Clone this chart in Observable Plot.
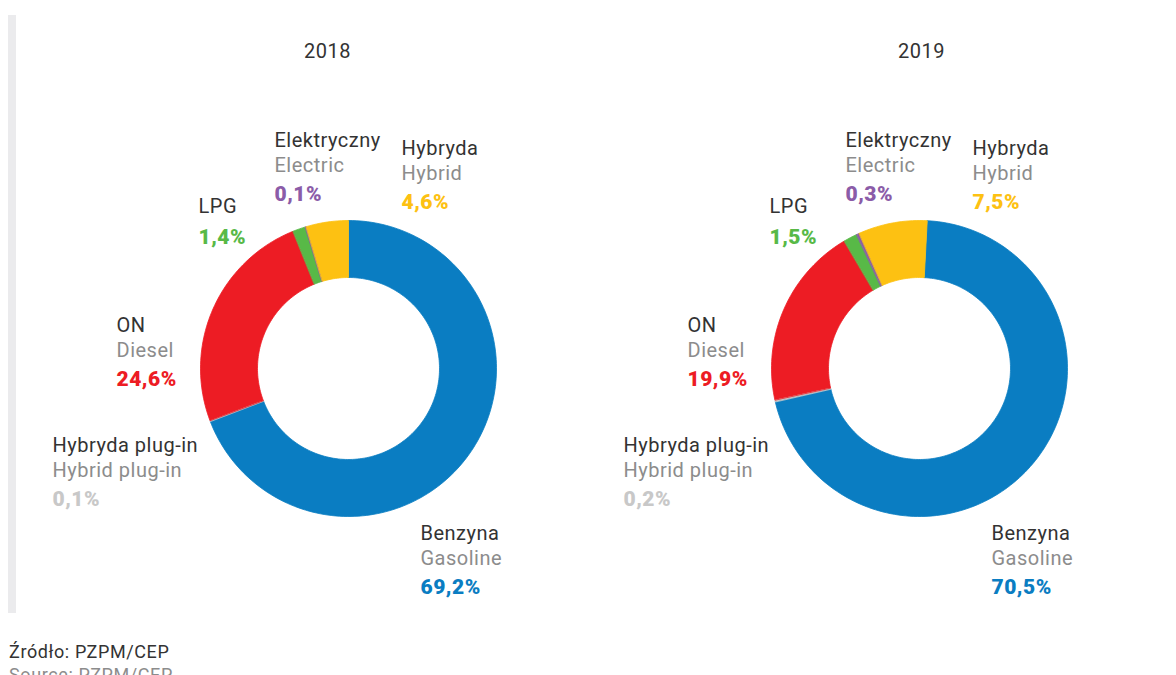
<!DOCTYPE html>
<html><head><meta charset="utf-8">
<script src="https://cdn.jsdelivr.net/npm/d3@7"></script>
<script src="https://cdn.jsdelivr.net/npm/@observablehq/plot@0.6"></script>
<style>
html,body{margin:0;padding:0;background:#fff;width:1176px;height:675px;overflow:hidden;font-family:Roboto,sans-serif;}
#bar{position:absolute;left:8px;top:15px;width:8px;height:598px;background:#ebebed;}
#chart{position:absolute;left:0;top:0;}
#chart text{letter-spacing:0.5px;}
#foot{position:absolute;left:9px;top:640px;font-size:18px;line-height:23px;color:#333;letter-spacing:0.6px;}
</style></head><body>
<div id="bar"></div><div id="chart"></div>
<div id="foot"><div>Źródło: PZPM/CEP</div><div style="color:#8c8c8c">Source: PZPM/CEP</div></div>
<script>
// ---- data ----
const years = [2018, 2019];
const categories = ["Benzyna", "Hybryda plug-in", "ON", "LPG", "Elektryczny", "Hybryda"];
const englishNames = ["Gasoline", "Hybrid plug-in", "Diesel", "", "Electric", "Hybrid"];
const values2018 = [69.2, 0.1, 24.6, 1.4, 0.1, 4.6];
const values2019 = [70.5, 0.2, 19.9, 1.5, 0.3, 7.5];
const sliceColors = ["#0a7dc2", "#c8c8c8", "#ed1c24", "#58b947", "#8b5ca8", "#fdc112"];

// ---- layout ----
const PX = 148;            // pixels per unit (outer radius)
const INNER = 91 / 148;    // inner radius ratio
const startDeg = {2018: 0, 2019: 3};
const labelPos = {         // px offsets from donut centre: [left edge, first-line middle]
  "Benzyna": [72, 165],
  "Hybryda plug-in": [-296, 77],
  "ON": [-232, -43],
  "LPG": [-150, -162],
  "Elektryczny": [-74, -228],
  "Hybryda": [53, -220]
};
const titleDx = {2018: -21, 2019: 2};
const valuesByYear = {2018: values2018, 2019: values2019};
const fmt = v => d3.format(".1f")(v).replace(".", ",") + "%";

const slicePts = [];
for (const year of years) {
  const vals = valuesByYear[year];
  const sum = d3.sum(vals);
  let a = startDeg[year];
  categories.forEach((cat, i) => {
    const span = vals[i] / sum * 360;
    const a0 = a, a1 = a + span; a = a1;
    const n = Math.max(2, Math.ceil(span / 1.5));
    const ang = d3.range(n + 1).map(k => (a0 + (a1 - a0) * k / n) * Math.PI / 180);
    ang.forEach(t => slicePts.push({year, cat, key: year + cat, x: Math.sin(t), y: Math.cos(t)}));
    ang.slice().reverse().forEach(t => slicePts.push({year, cat, key: year + cat, x: INNER * Math.sin(t), y: INNER * Math.cos(t)}));
  });
}

const labelRows = years.flatMap(year => categories.map((cat, i) => ({
  year, cat, en: englishNames[i], pct: fmt(valuesByYear[year][i]),
  x: labelPos[cat][0] / PX, y: -labelPos[cat][1] / PX
})));

const W = 1176, H = 620, CY = 368;
const chart = Plot.plot({
  width: W, height: H,
  marginLeft: 108, marginRight: 17, marginTop: 0, marginBottom: 0,
  style: {fontFamily: "Roboto, sans-serif", background: "transparent"},
  fx: {domain: years, paddingInner: 91 / 571, paddingOuter: 0, axis: null, round: false},
  x: {domain: [-240 / PX, 240 / PX], axis: null},
  y: {domain: [-(H - CY) / PX, CY / PX], axis: null},
  color: {domain: categories, range: sliceColors},
  marks: [
    Plot.line(slicePts, {fx: "year", x: "x", y: "y", z: "key", fill: "cat", stroke: "cat", strokeWidth: 0.8, curve: "linear-closed"}),
    Plot.text(years, {fx: d => d, x: d => titleDx[d] / PX, frameAnchor: "top", dy: 43, text: d => String(d), fontSize: 20, fill: "#333"}),
    Plot.text(labelRows, {fx: "year", x: "x", y: "y", text: "cat", textAnchor: "start", fontSize: 20, fill: "#333"}),
    Plot.text(labelRows.filter(d => d.en), {fx: "year", x: "x", y: "y", text: "en", textAnchor: "start", fontSize: 20, fill: "#8c8c8c", dy: 25}),
    Plot.text(labelRows.filter(d => d.en), {fx: "year", x: "x", y: "y", text: "pct", textAnchor: "start", fontSize: 21, fontWeight: 900, fill: "cat", dy: 54}),
    Plot.text(labelRows.filter(d => !d.en), {fx: "year", x: "x", y: "y", text: "pct", textAnchor: "start", fontSize: 21, fontWeight: 900, fill: "cat", dy: 31})
  ]
});
document.getElementById("chart").appendChild(chart);
</script>
</body></html>
